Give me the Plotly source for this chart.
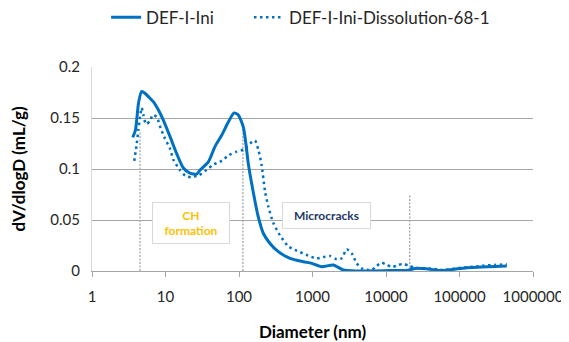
import plotly.graph_objects as go

# Data
ini_x = [3.58, 3.9, 4.3, 4.74, 5.3, 5.84, 6.82, 7.98, 9.34, 11.5, 14.2, 17.5, 21.5, 26.6, 29.5,
         38.3, 47.1, 58.1, 71.6, 85.5, 97.8, 114.6, 124, 134, 156.6, 183, 214, 264, 343, 494,
         750, 977, 1334, 1919, 2627, 3981, 7000, 12000, 20000, 25000, 35000, 55000, 80000,
         120000, 200000, 300000, 440000]
ini_y = [0.131, 0.138, 0.165, 0.176, 0.174, 0.171, 0.166, 0.158, 0.148, 0.132, 0.115, 0.101,
         0.096, 0.095, 0.099, 0.107, 0.122, 0.133, 0.146, 0.155, 0.153, 0.141, 0.125, 0.105,
         0.077, 0.053, 0.037, 0.027, 0.019, 0.0124, 0.0091, 0.0075, 0.0042, 0.0059, 0.001,
         0.0, 0.0, 0.0005, 0.0008, 0.0025, 0.0022, 0.0005, 0.0015, 0.003, 0.0038, 0.0045, 0.005]

dis_x = [3.76, 4.05, 4.27, 4.5, 4.74, 5.0, 5.43, 6.15, 6.7, 7.6, 8.6, 9.8, 11.5, 12.8, 15.7,
         18.8, 22.2, 28.6, 34.5, 45.7, 55.1, 73.8, 92.9, 114.6, 141, 165, 183, 203, 226, 251,
         293, 361, 469, 609, 834, 1140, 1479, 1730, 2133, 2494, 2918, 3412, 3991, 4667, 6380,
         7463, 8730, 10230, 12300, 14700, 17200, 20750, 25000, 40000, 60000, 100000, 200000,
         300000, 440000]
dis_y = [0.108, 0.124, 0.138, 0.151, 0.160, 0.153, 0.144, 0.147, 0.153, 0.151, 0.140, 0.130,
         0.120, 0.109, 0.099, 0.093, 0.092, 0.094, 0.098, 0.1046, 0.107, 0.1137, 0.117, 0.119,
         0.125, 0.128, 0.119, 0.104, 0.078, 0.063, 0.047, 0.035, 0.024, 0.020, 0.0157, 0.0124,
         0.014, 0.0147, 0.0115, 0.0124, 0.0213, 0.0173, 0.0075, 0.0026, 0.001, 0.005, 0.0081,
         0.006, 0.004, 0.006, 0.0069, 0.005, 0.003, 0.0025, 0.001, 0.003, 0.005, 0.006, 0.0065]

# Vertical reference lines (diameter, top value)
ref_x = [4.5, 113, 21000]
ref_top = [0.136, 0.143, 0.0745]

x_tickvals = [1, 10, 100, 1000, 10000, 100000, 1000000]
x_ticktext = ["1", "10", "100", "1000", "10000", "100000", "1000000"]
y_tickvals = [0, 0.05, 0.1, 0.15, 0.2]
y_ticktext = ["0", "0.05", "0.1", "0.15", "0.2"]

FONT = "Lato"
BLUE = "#0070C0"

fig = go.Figure()
for rx, rt in zip(ref_x, ref_top):
    fig.add_trace(go.Scatter(x=[rx, rx], y=[0, rt], mode="lines", showlegend=False,
                             hoverinfo="skip",
                             line=dict(color="#a6a6a6", width=1.3, dash="2px,1.5px")))

fig.add_trace(go.Scatter(x=ini_x, y=ini_y, mode="lines", name="DEF-I-Ini", legend="legend",
                         line=dict(color=BLUE, width=3, shape="spline", smoothing=0.6)))
fig.add_trace(go.Scatter(x=dis_x, y=dis_y, mode="lines", name="DEF-I-Ini-Dissolution-68-1",
                         legend="legend2",
                         line=dict(color=BLUE, width=2.5, dash="2.5px,3.5px",
                                   shape="spline", smoothing=0.6)))

leg_font = dict(family=FONT, size=17, color="#262626")

fig.update_layout(
    width=561, height=334,
    margin=dict(l=84, r=36, t=59, b=71, autoexpand=False),
    paper_bgcolor="white", plot_bgcolor="white",
    font=dict(family=FONT, size=15, color="#262626"),
    legend=dict(orientation="h", x=0.032, xanchor="left", y=1.33, yanchor="top",
                font=leg_font, itemwidth=30, bgcolor="rgba(0,0,0,0)"),
    legend2=dict(orientation="h", x=0.356, xanchor="left", y=1.33, yanchor="top",
                 font=leg_font, itemwidth=30, bgcolor="rgba(0,0,0,0)"),
    xaxis=dict(type="log", range=[0, 6], tickvals=x_tickvals, ticktext=x_ticktext,
               showgrid=False, showline=True, linecolor="#a6a6a6", linewidth=1,
               ticks="outside", ticklen=5, tickcolor="#a6a6a6", ticklabelstandoff=7,
               tickfont=dict(family=FONT, size=15, color="#262626"),
               title=dict(text="<b>Diameter (nm)</b>", font=dict(family=FONT, size=17, color="#000"),
                          standoff=22),
               zeroline=False, automargin=False),
    yaxis=dict(range=[0, 0.2], tickvals=y_tickvals, ticktext=y_ticktext,
               showgrid=True, gridcolor="#a6a6a6", gridwidth=1,
               showline=True, linecolor="#d9d9d9", linewidth=1,
               ticks="", tickfont=dict(family=FONT, size=15, color="#262626"),
               ticklabelstandoff=8,
               title=dict(text="<b>dV/dlogD (mL/g)</b>", font=dict(family=FONT, size=17, color="#000"),
                          standoff=20),
               zeroline=False, automargin=False),
    annotations=[
        dict(xref="paper", yref="paper", x=0.2234, y=0.235, text="<b>CH<br>formation</b>",
             showarrow=False, font=dict(family=FONT, size=12, color="#FFC000"),
             bgcolor="white", bordercolor="#d9d9d9", borderwidth=1, borderpad=2,
             width=72, height=36, xanchor="center", yanchor="middle"),
        dict(xref="paper", yref="paper", x=0.531, y=0.2745, text="<b>Microcracks</b>",
             showarrow=False, font=dict(family=FONT, size=12, color="#1F3864"),
             bgcolor="white", bordercolor="#d9d9d9", borderwidth=1, borderpad=2,
             width=83, height=21, xanchor="center", yanchor="middle"),
    ],
)

fig.write_html("out.html")
